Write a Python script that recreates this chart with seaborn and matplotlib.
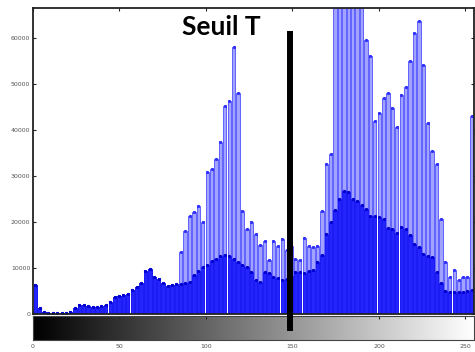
"""Histogramme de niveaux de gris avec seuil T (recreation)."""

import matplotlib
matplotlib.use("Agg")
import matplotlib.pyplot as plt
import numpy as np
import pandas as pd
import seaborn as sns

# 100 classes sur [0, 255]
n_bins = 100
bin_range = (0, 255)
bin_centers = np.linspace(0, 255, n_bins + 1)[:-1] + 255 / n_bins / 2

# histogramme foncé (premier plan)
dark_counts = [
    6350, 1300, 450, 220, 220, 220, 220, 220, 450, 1300,
    2000, 2000, 1750, 1500, 1500, 1750, 2000, 2600, 3700, 3900,
    4200, 4400, 5300, 5900, 6800, 9400, 9850, 8100, 7700, 6800,
    6100, 6350, 6550, 6550, 6800, 7000, 8550, 9400, 10300, 10700,
    11600, 12000, 12500, 12900, 12700, 12000, 11200, 10700, 10300, 9200,
    7450, 7000, 9200, 9000, 8100, 7900, 7450, 7700, 8300, 9200,
    9200, 9000, 9400, 9650, 11200, 12900, 17300, 20100, 22500, 25000,
    26700, 26500, 25000, 24500, 23600, 22800, 21200, 21200, 21000, 20600,
    18600, 18400, 17500, 19000, 18400, 17100, 15300, 14500, 13100, 12500,
    12300, 9200, 6800, 5000, 4800, 4800, 4800, 4800, 5000, 5250,
]

# histogramme clair (arrière-plan)
light_counts = [
    6350, 1300, 450, 220, 220, 220, 220, 220, 450, 1300,
    2000, 2000, 1750, 1500, 1500, 1750, 2000, 2600, 3700, 3900,
    4200, 4400, 5300, 5900, 6800, 9400, 9850, 8100, 7700, 6800,
    6100, 6350, 6550, 13400, 18000, 21200, 22100, 23400, 20100, 30900,
    31500, 33700, 37400, 45300, 46200, 58000, 48000, 22300, 18400, 20100,
    17300, 15100, 15800, 11800, 15800, 14700, 16200, 14000, 14700, 12000,
    11800, 16600, 14700, 14500, 14700, 22300, 32600, 34800, 72000, 75000,
    78000, 80000, 76000, 74000, 71000, 59600, 56000, 42000, 43600, 46900,
    48000, 44700, 40700, 47500, 49300, 55000, 61000, 63700, 54100, 41400,
    35500, 32600, 20600, 11400, 8100, 9600, 7400, 8100, 8100, 43100,
]

threshold = 148.5
threshold_top = 61500
y_ticks = [0, 10000, 20000, 30000, 40000, 50000, 60000]
x_ticks = [0, 50, 100, 150, 200, 250]

hist_df = pd.DataFrame({
    "niveau": bin_centers,
    "clair": light_counts,
    "fonce": dark_counts,
})

sns.set_style("white")

fig = plt.figure(figsize=(4.75, 3.52), dpi=100)
ax_cb = fig.add_axes([33 / 475, 1 - 340 / 352, 441 / 475, 24 / 352])
ax = fig.add_axes([33 / 475, 1 - 314 / 352, 441 / 475, 306 / 352])

sns.histplot(
    data=hist_df, x="niveau", weights="clair", bins=n_bins, binrange=bin_range,
    shrink=0.75, color="#a2a2ff", edgecolor="#5050ff", linewidth=0.6,
    alpha=1, ax=ax,
)
sns.histplot(
    data=hist_df, x="niveau", weights="fonce", bins=n_bins, binrange=bin_range,
    shrink=0.75, color="#2424ff", edgecolor="#1414f0", linewidth=0.6,
    alpha=1, ax=ax,
)
ax.plot(hist_df["niveau"], hist_df["clair"], "s", ms=1.2, color="#3030ff", lw=0)
ax.plot(hist_df["niveau"], hist_df["fonce"], "s", ms=1.2, color="#0000d0", lw=0)

ax.set_xlim(0, 255)
ax.set_ylim(0, 66500)
ax.set_xticks(x_ticks)
ax.set_xticklabels([])
ax.set_yticks(y_ticks)
ax.set_yticklabels([str(t) for t in y_ticks])
ax.set_xlabel("")
ax.set_ylabel("")
ax.tick_params(direction="in", length=2.5, width=0.8, top=True, right=True,
               bottom=True, left=True, labelsize=4.5, labelcolor="#555555",
               pad=2)
for s in ax.spines.values():
    s.set_linewidth(1.3)
    s.set_color("#222222")

# seuil T
ax.plot([threshold, threshold], [threshold_top, -3600], color="black", lw=4.3,
        solid_capstyle="butt", clip_on=False, zorder=10)
ax.text(109, 62300, "Seuil T", ha="center", va="center", fontsize=19,
        fontweight="bold", family=["Lato", "DejaVu Sans"], color="black",
        zorder=11)

# barre de niveaux de gris
gradient = np.linspace(0, 1, 256)[None, :]
ax_cb.imshow(gradient, cmap="gray", aspect="auto", extent=(0, 255, 0, 1))
ax_cb.set_xlim(0, 255)
ax_cb.set_yticks([])
ax_cb.set_xticks(x_ticks)
ax_cb.set_xticklabels([str(t) for t in x_ticks])
ax_cb.tick_params(direction="in", length=2.5, width=0.8, top=True,
                  labelsize=4.5, labelcolor="#555555", pad=3)
for s in ax_cb.spines.values():
    s.set_linewidth(0.8)
    s.set_color("#444444")

fig.savefig("out.png", dpi=100)
